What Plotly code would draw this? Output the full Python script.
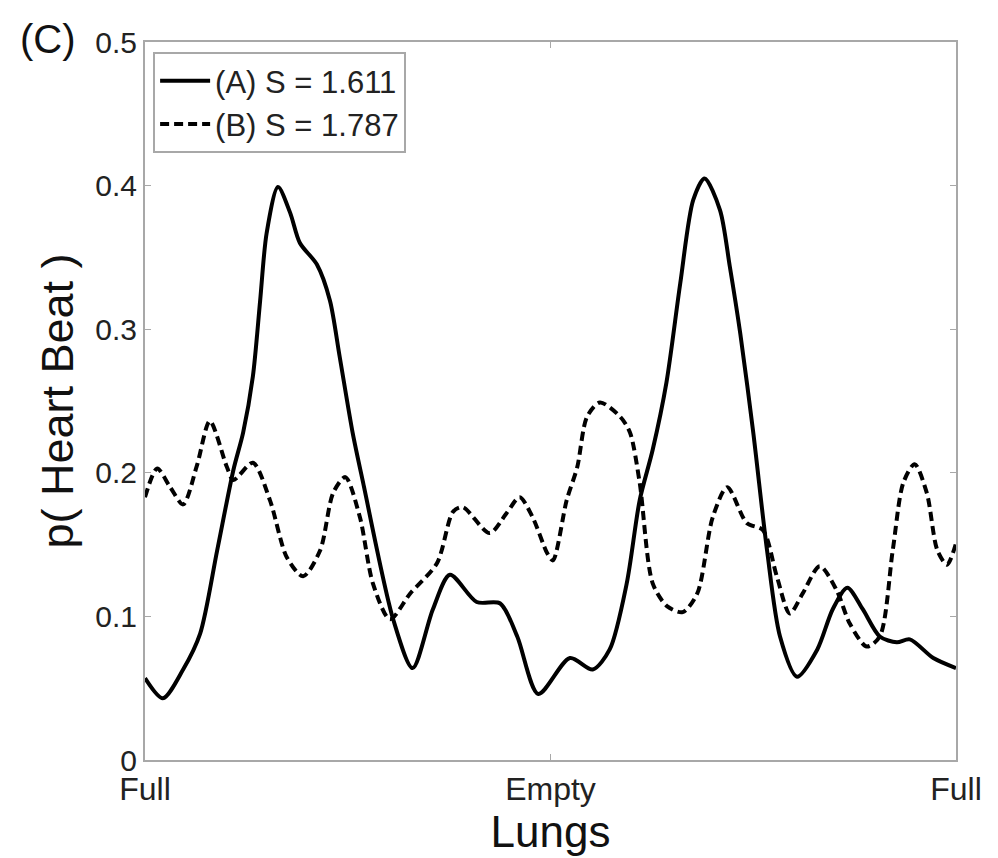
import plotly.graph_objects as go

# Lung phase (0 = Full, 0.5 = Empty, 1 = Full)
xa = [0.000, 0.022, 0.047, 0.068, 0.089, 0.109, 0.121, 0.133, 0.142, 0.150, 0.164, 0.179,
      0.191, 0.212, 0.228, 0.240, 0.256, 0.269, 0.306, 0.330, 0.355, 0.376, 0.409, 0.438,
      0.459, 0.485, 0.524, 0.552, 0.573, 0.594, 0.610, 0.626, 0.643, 0.660, 0.676, 0.690,
      0.709, 0.721, 0.734, 0.750, 0.767, 0.783, 0.804, 0.829, 0.848, 0.866, 0.885, 0.906,
      0.927, 0.943, 0.972, 1.000]
ya = [0.057, 0.043, 0.063, 0.088, 0.146, 0.202, 0.228, 0.267, 0.320, 0.367, 0.399, 0.381,
      0.360, 0.345, 0.320, 0.281, 0.228, 0.193, 0.098, 0.064, 0.105, 0.129, 0.110, 0.109,
      0.086, 0.046, 0.071, 0.063, 0.077, 0.123, 0.181, 0.216, 0.263, 0.332, 0.390, 0.405,
      0.383, 0.344, 0.297, 0.228, 0.146, 0.086, 0.058, 0.077, 0.105, 0.120, 0.105, 0.086,
      0.082, 0.084, 0.071, 0.064]

xb = [0.000, 0.015, 0.031, 0.047, 0.064, 0.080, 0.101, 0.109, 0.133, 0.154, 0.175, 0.195,
      0.216, 0.232, 0.247, 0.265, 0.281, 0.302, 0.327, 0.360, 0.380, 0.392, 0.425, 0.446,
      0.462, 0.478, 0.496, 0.503, 0.520, 0.533, 0.545, 0.561, 0.586, 0.598, 0.610, 0.626,
      0.644, 0.663, 0.681, 0.700, 0.718, 0.742, 0.762, 0.779, 0.795, 0.811, 0.832, 0.853,
      0.869, 0.890, 0.906, 0.922, 0.935, 0.949, 0.964, 0.977, 0.989, 1.000]
yb = [0.183, 0.203, 0.190, 0.178, 0.205, 0.236, 0.204, 0.195, 0.207, 0.181, 0.141, 0.128,
      0.146, 0.186, 0.197, 0.169, 0.123, 0.098, 0.116, 0.137, 0.173, 0.176, 0.158, 0.172,
      0.183, 0.169, 0.144, 0.139, 0.181, 0.204, 0.239, 0.249, 0.239, 0.228, 0.193, 0.123,
      0.107, 0.103, 0.116, 0.169, 0.190, 0.165, 0.160, 0.128, 0.102, 0.116, 0.135, 0.118,
      0.095, 0.079, 0.086, 0.146, 0.193, 0.206, 0.186, 0.146, 0.136, 0.151]

name_a = "(A) S = 1.611"
name_b = "(B) S = 1.787"
x_tickvals = [0, 0.5, 1]
x_ticktext = ["Full", "Empty", "Full"]
y_tickvals = [0, 0.1, 0.2, 0.3, 0.4, 0.5]
y_ticktext = ["0", "0.1", "0.2", "0.3", "0.4", "0.5"]

FONT = "Liberation Sans, Arial, sans-serif"
AXC = "#a8a8a8"

fig = go.Figure()
fig.add_trace(go.Scatter(x=xa, y=ya, mode="lines", name=name_a,
                         line=dict(color="black", width=4, shape="spline", smoothing=0.8)))
fig.add_trace(go.Scatter(x=xb, y=yb, mode="lines", name=name_b,
                         line=dict(color="black", width=4, dash="9px,5px", shape="spline", smoothing=0.8)))

fig.update_layout(
    width=998, height=858,
    margin=dict(l=145, r=42, t=42, b=98),
    paper_bgcolor="white", plot_bgcolor="white",
    font=dict(family=FONT, color="#222222"),
    showlegend=True,
    legend=dict(x=0.01, y=0.986, xanchor="left", yanchor="top",
                bordercolor=AXC, borderwidth=2, bgcolor="white",
                font=dict(size=31, family=FONT, color="#222222"),
                itemwidth=50, tracegroupgap=0),
    xaxis=dict(range=[0, 1], tickmode="array", tickvals=x_tickvals, ticktext=x_ticktext,
               showgrid=False, zeroline=False, showline=True, linecolor=AXC, linewidth=2,
               mirror="ticks", ticks="inside", ticklen=6, tickcolor=AXC, tickwidth=1,
               tickfont=dict(size=32, family=FONT, color="#222222"),
               title=dict(text="Lungs", font=dict(size=44, family=FONT, color="#111111"), standoff=2)),
    yaxis=dict(range=[0, 0.5], tickmode="array", tickvals=y_tickvals, ticktext=y_ticktext,
               showgrid=False, zeroline=False, showline=True, linecolor=AXC, linewidth=2,
               mirror="ticks", ticks="inside", ticklen=6, tickcolor=AXC, tickwidth=1,
               tickfont=dict(size=30, family=FONT, color="#222222"),
               title=dict(text="p( Heart Beat )", font=dict(size=45, family=FONT, color="#111111"), standoff=8)),
    annotations=[dict(text="(C)", xref="paper", yref="paper", x=-0.157, y=1.038,
                      xanchor="left", yanchor="top", showarrow=False,
                      font=dict(size=40, family=FONT, color="#111111"))],
)

fig.write_html("out.html")
